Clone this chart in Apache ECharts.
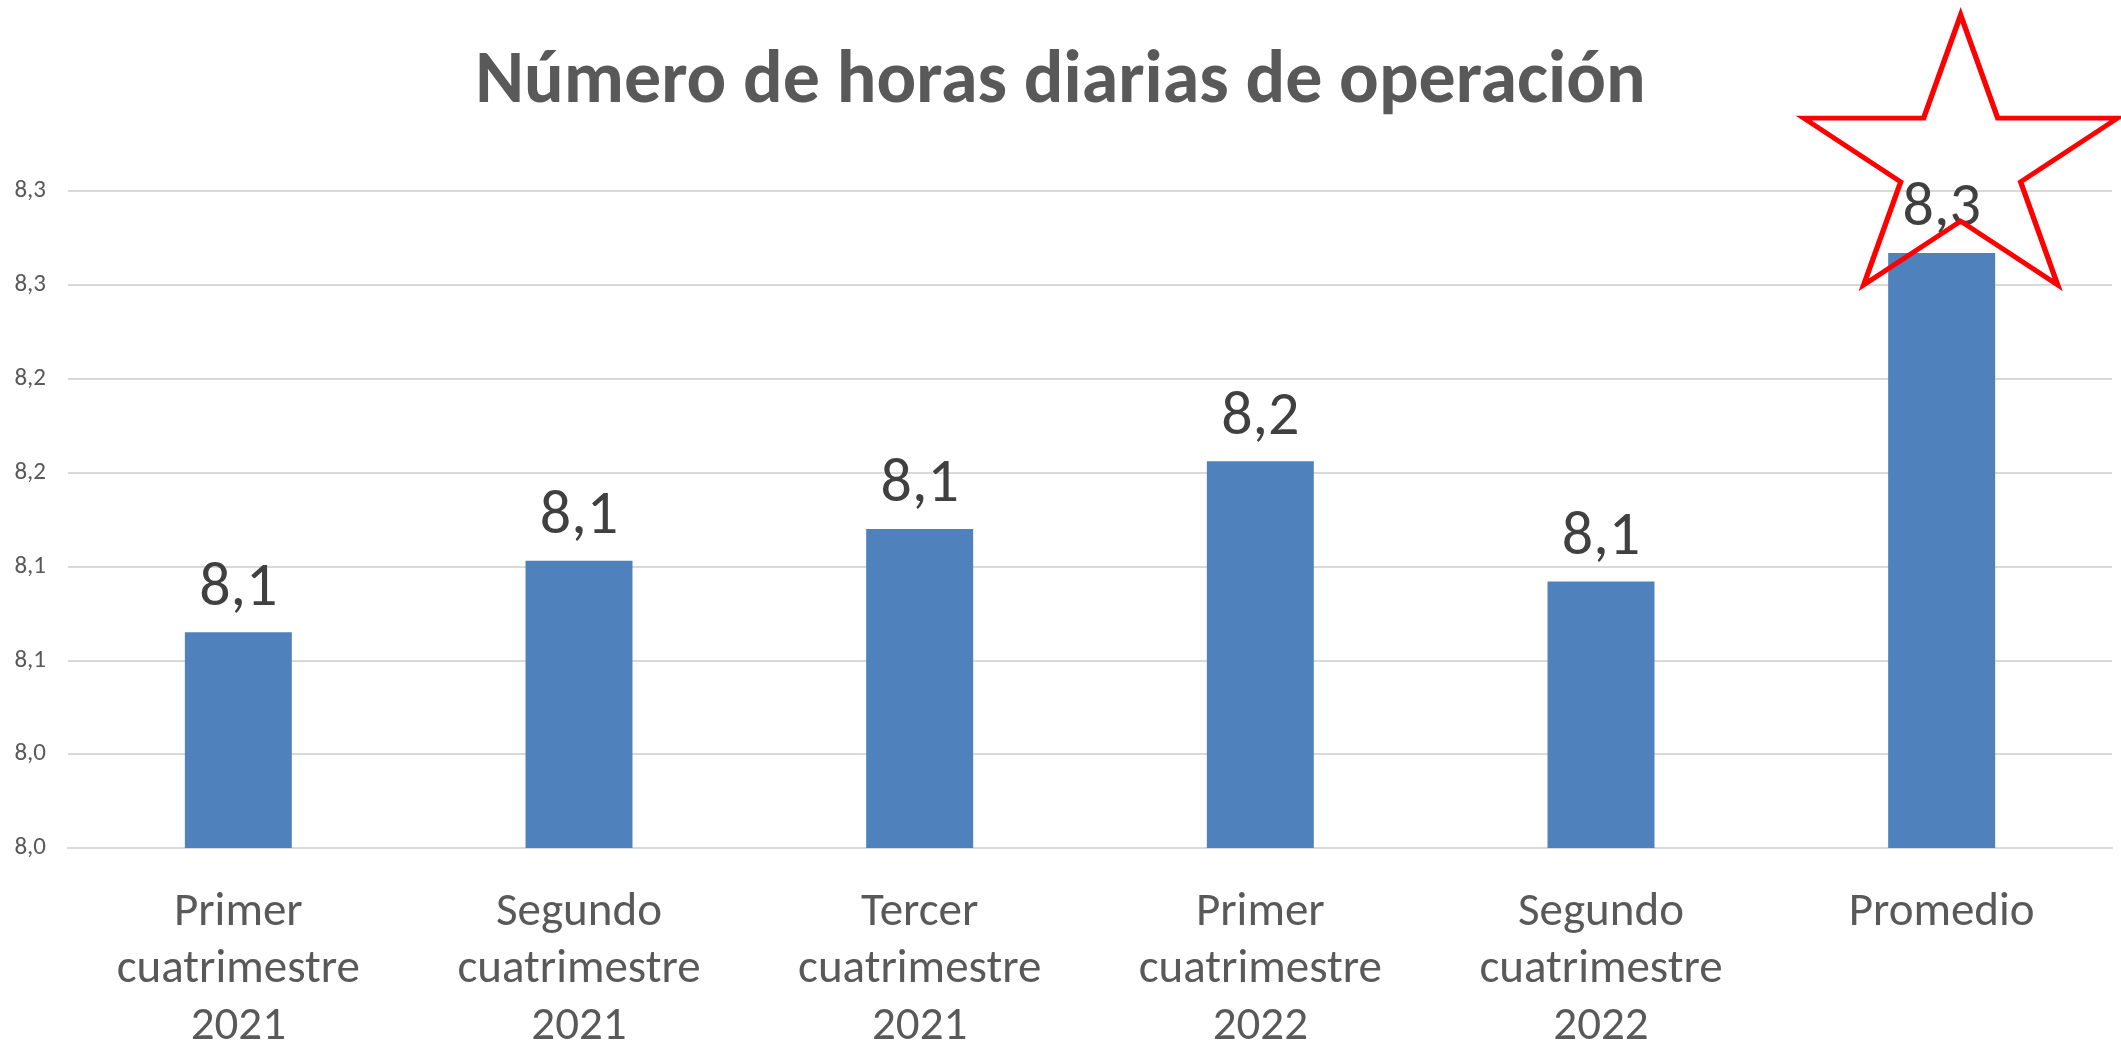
<!DOCTYPE html>
<html>
<head>
<meta charset="utf-8">
<script src="https://cdn.jsdelivr.net/npm/echarts@6/dist/echarts.min.js"></script>
<style>
  html, body { margin: 0; padding: 0; background: #fff; }
  #chart { width: 2121px; height: 1047px; }
</style>
</head>
<body>
<div id="chart"></div>
<script>
// data
const categories = [
  'Primer\ncuatrimestre\n2021',
  'Segundo\ncuatrimestre\n2021',
  'Tercer\ncuatrimestre\n2021',
  'Primer\ncuatrimestre\n2022',
  'Segundo\ncuatrimestre\n2022',
  'Promedio'
];
const horas = [8.065, 8.103, 8.120, 8.156, 8.092, 8.267];
const yTickLabels = ['8,0', '8,0', '8,1', '8,1', '8,2', '8,2', '8,3', '8,3'];
const yMin = 7.95;
const yStep = 0.05;
const yMax = 8.30;

const font = 'Carlito, Calibri, Lato, sans-serif';

// red outline star (shape only, positioned on the Promedio bar)
function starPath() {
  let d = '';
  for (let i = 0; i < 10; i++) {
    const r = i % 2 === 0 ? 100 : 38.2;
    const a = -Math.PI / 2 + i * Math.PI / 5;
    const x = (r * Math.cos(a)).toFixed(2);
    const y = (r * Math.sin(a)).toFixed(2);
    d += (i === 0 ? 'M' : 'L') + x + ' ' + y + ' ';
  }
  return 'path://' + d + 'Z';
}

const chart = echarts.init(document.getElementById('chart'));
const option = {
  animation: false,
  title: {
    text: 'Número de horas diarias de operación',
    left: 'center',
    top: 36,
    textStyle: {
      fontFamily: font,
      fontWeight: 'bold',
      fontSize: 74,
      lineHeight: 84,
      color: '#595959'
    }
  },
  grid: { left: 68, right: 9, top: 191, bottom: 199, outerBoundsMode: 'none' },
  xAxis: {
    type: 'category',
    data: categories,
    axisTick: { show: false },
    axisLine: { lineStyle: { color: '#d9d9d9', width: 2 } },
    axisLabel: {
      margin: 37,
      fontFamily: font,
      fontSize: 47,
      lineHeight: 57,
      color: '#595959',
      interval: 0
    }
  },
  yAxis: {
    type: 'value',
    min: yMin,
    max: yMax,
    interval: yStep,
    axisLine: { show: false },
    axisTick: { show: false },
    splitLine: { lineStyle: { color: '#d9d9d9', width: 2 } },
    axisLabel: {
      margin: 22,
      fontFamily: font,
      fontSize: 25,
      color: '#595959',
      formatter: function (v) {
        return yTickLabels[Math.round((v - yMin) / yStep)];
      }
    }
  },
  series: [
    {
      type: 'bar',
      data: horas,
      barWidth: '31.4%',
      itemStyle: { color: '#4F81BD' },
      label: {
        show: true,
        position: 'top',
        distance: 12,
        fontFamily: font,
        fontSize: 62,
        color: '#404040',
        formatter: function (p) {
          return p.value.toFixed(1).replace('.', ',');
        }
      },
      markPoint: {
        silent: true,
        symbol: starPath(),
        symbolSize: [314, 270],
        symbolOffset: [19, -103],
        label: { show: false },
        itemStyle: { color: 'none', borderColor: '#FF0000', borderWidth: 5 },
        data: [{ coord: [categories[5], horas[5]] }]
      }
    }
  ]
};
chart.setOption(option);
</script>
</body>
</html>
